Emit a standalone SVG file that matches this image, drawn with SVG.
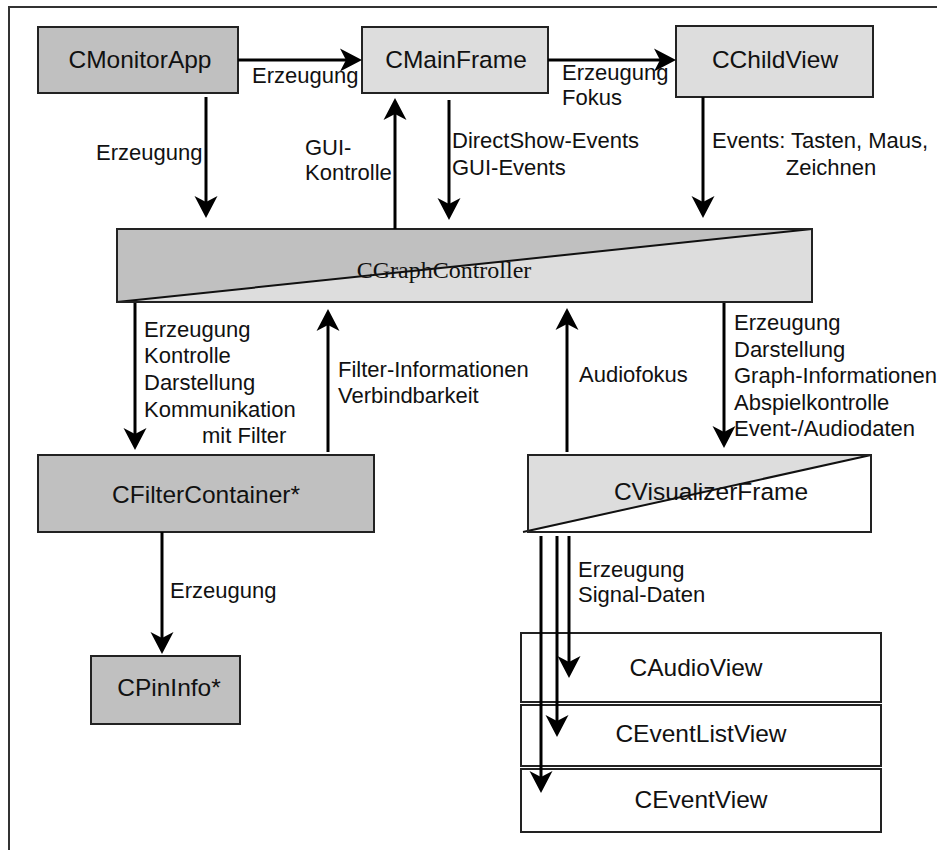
<svg xmlns="http://www.w3.org/2000/svg" width="937" height="850" viewBox="0 0 937 850">
  <style>
    .box { stroke: #222; stroke-width: 2; }
    .dark { fill: #c0c0c0; }
    .light { fill: #dddddd; }
    .white { fill: #ffffff; }
    .node { font-family: "Liberation Sans", Arial, sans-serif; font-size: 24.5px; fill: #111; text-anchor: middle; }
    .serif { font-family: "Liberation Serif", "Times New Roman", serif; font-size: 24px; fill: #111; text-anchor: middle; }
    .lbl { font-family: "Liberation Sans", Arial, sans-serif; font-size: 22px; fill: #111; }
    .mid { text-anchor: middle; }
    .edge { stroke: #000; stroke-width: 3; fill: none; marker-end: url(#arrow); }
  </style>
  <defs>
    <marker id="arrow" viewBox="0 0 22 24" markerUnits="userSpaceOnUse" markerWidth="22" markerHeight="24" refX="18" refY="12" orient="auto">
      <path d="M22,12 L0,0.5 L6,12 L0,23.5 Z" fill="#000"/>
    </marker>
  </defs>

  <rect x="0" y="0" width="937" height="850" fill="#ffffff"/>
  <!-- outer frame, open to the right and bottom -->
  <rect x="9" y="7" width="1000" height="1000" fill="none" stroke="#333" stroke-width="2"/>

  <g id="CMonitorApp">
    <rect class="box dark" x="38" y="27" width="200" height="66"/>
    <text class="node" x="140" y="68">CMonitorApp</text>
  </g>
  <g id="CMainFrame">
    <rect class="box light" x="362" y="27" width="186" height="66"/>
    <text class="node" x="456" y="68">CMainFrame</text>
  </g>
  <g id="CChildView">
    <rect class="box light" x="676" y="26" width="197" height="71"/>
    <text class="node" x="775" y="68">CChildView</text>
  </g>
  <g id="CGraphController">
    <rect class="light" x="117" y="229" width="695" height="73"/>
    <polygon class="dark" points="117,229 812,229 117,302"/>
    <text class="serif" x="444" y="278">CGraphController</text>
    <line x1="117" y1="302" x2="812" y2="229" stroke="#111" stroke-width="2"/>
    <rect class="box" x="117" y="229" width="695" height="73" fill="none"/>
  </g>
  <g id="CFilterContainer">
    <rect class="box dark" x="38" y="455" width="336" height="77"/>
    <text class="node" x="206" y="503">CFilterContainer*</text>
  </g>
  <g id="CVisualizerFrame">
    <rect class="white" x="528" y="455" width="343" height="77"/>
    <polygon class="light" points="528,455 871,455 528,532"/>
    <text class="node" x="711" y="500">CVisualizerFrame</text>
    <line x1="523" y1="532" x2="871" y2="455" stroke="#111" stroke-width="2"/>
    <rect class="box" x="528" y="455" width="343" height="77" fill="none"/>
  </g>
  <g id="CPinInfo">
    <rect class="box dark" x="91" y="656" width="149" height="68"/>
    <text class="node" x="169" y="696">CPinInfo*</text>
  </g>
  <g id="CAudioView">
    <rect class="box white" x="521" y="633" width="360" height="69"/>
    <text class="node" x="696" y="676">CAudioView</text>
  </g>
  <g id="CEventListView">
    <rect class="box white" x="521" y="705" width="360" height="61"/>
    <text class="node" x="701" y="742">CEventListView</text>
  </g>
  <g id="CEventView">
    <rect class="box white" x="521" y="769" width="360" height="63"/>
    <text class="node" x="701" y="808">CEventView</text>
  </g>

  <g id="connectors">
    <line class="edge" x1="238" y1="60" x2="358" y2="60"/>
    <line class="edge" x1="548" y1="60" x2="672" y2="60"/>
    <line class="edge" x1="206" y1="97" x2="206" y2="214"/>
    <line class="edge" x1="395" y1="229" x2="395" y2="102"/>
    <line class="edge" x1="449" y1="100" x2="449" y2="216"/>
    <line class="edge" x1="703" y1="97" x2="703" y2="214"/>
    <line class="edge" x1="135" y1="303" x2="135" y2="446"/>
    <line class="edge" x1="328" y1="452" x2="328" y2="313"/>
    <line class="edge" x1="567" y1="452" x2="567" y2="312"/>
    <line class="edge" x1="724" y1="303" x2="724" y2="444"/>
    <line class="edge" x1="569" y1="536" x2="569" y2="674"/>
    <line class="edge" x1="557" y1="536" x2="557" y2="733"/>
    <line class="edge" x1="541" y1="536" x2="541" y2="789"/>
    <line class="edge" x1="162" y1="532" x2="162" y2="650"/>
  </g>

  <g id="labels">
    <text class="lbl" x="252" y="83">Erzeugung</text>
    <text class="lbl" x="562" y="80">Erzeugung</text>
    <text class="lbl" x="562" y="105">Fokus</text>
    <text class="lbl" x="96" y="160">Erzeugung</text>
    <text class="lbl" x="305" y="155">GUI-</text>
    <text class="lbl" x="305" y="180">Kontrolle</text>
    <text class="lbl" x="452" y="148">DirectShow-Events</text>
    <text class="lbl" x="452" y="175">GUI-Events</text>
    <text class="lbl" x="712" y="148">Events: Tasten, Maus,</text>
    <text class="lbl mid" x="831" y="175">Zeichnen</text>
    <text class="lbl" x="144" y="337">Erzeugung</text>
    <text class="lbl" x="144" y="363">Kontrolle</text>
    <text class="lbl" x="144" y="390">Darstellung</text>
    <text class="lbl" x="144" y="417">Kommunikation</text>
    <text class="lbl" x="202" y="443">mit Filter</text>
    <text class="lbl" x="338" y="377">Filter-Informationen</text>
    <text class="lbl" x="338" y="403">Verbindbarkeit</text>
    <text class="lbl" x="579" y="382">Audiofokus</text>
    <text class="lbl" x="734" y="330">Erzeugung</text>
    <text class="lbl" x="734" y="357">Darstellung</text>
    <text class="lbl" x="734" y="383">Graph-Informationen</text>
    <text class="lbl" x="734" y="410">Abspielkontrolle</text>
    <text class="lbl" x="734" y="436">Event-/Audiodaten</text>
    <text class="lbl" x="578" y="577">Erzeugung</text>
    <text class="lbl" x="578" y="602">Signal-Daten</text>
    <text class="lbl" x="170" y="598">Erzeugung</text>
  </g>
</svg>
